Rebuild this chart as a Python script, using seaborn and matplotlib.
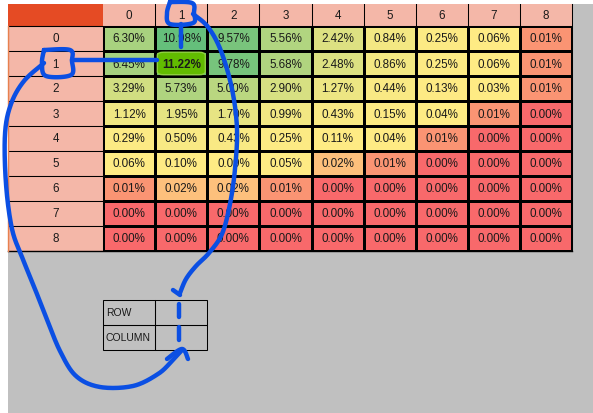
import numpy as np
import pandas as pd
import seaborn as sns
import matplotlib
matplotlib.use("Agg")
import matplotlib.pyplot as plt
from matplotlib.colors import LinearSegmentedColormap, TwoSlopeNorm
from matplotlib.patches import Rectangle, FancyBboxPatch

# ---- data ----
row_labels = ["0", "1", "2", "3", "4", "5", "6", "7", "8"]
col_labels = ["0", "1", "2", "3", "4", "5", "6", "7", "8"]
row0 = [6.30, 10.98, 9.57, 5.56, 2.42, 0.84, 0.25, 0.06, 0.01]
row1 = [6.45, 11.22, 9.78, 5.68, 2.48, 0.86, 0.25, 0.06, 0.01]
row2 = [3.29, 5.73, 5.00, 2.90, 1.27, 0.44, 0.13, 0.03, 0.01]
row3 = [1.12, 1.95, 1.70, 0.99, 0.43, 0.15, 0.04, 0.01, 0.00]
row4 = [0.29, 0.50, 0.43, 0.25, 0.11, 0.04, 0.01, 0.00, 0.00]
row5 = [0.06, 0.10, 0.09, 0.05, 0.02, 0.01, 0.00, 0.00, 0.00]
row6 = [0.01, 0.02, 0.02, 0.01, 0.00, 0.00, 0.00, 0.00, 0.00]
row7 = [0.00, 0.00, 0.00, 0.00, 0.00, 0.00, 0.00, 0.00, 0.00]
row8 = [0.00, 0.00, 0.00, 0.00, 0.00, 0.00, 0.00, 0.00, 0.00]
form_labels = ["ROW", "COLUMN"]
highlight_row, highlight_col = 1, 1

values = np.array([row0, row1, row2, row3, row4, row5, row6, row7, row8])
df = pd.DataFrame(values, index=row_labels, columns=col_labels)
annot = df.map(lambda v: f"{v:.2f}%")

W, H = 593, 414
fig = plt.figure(figsize=(W / 100, H / 100), dpi=100, facecolor="white")

# background (pixel coordinates)
bg = fig.add_axes([0, 0, 1, 1])
bg.set_xlim(0, W)
bg.set_ylim(H, 0)
bg.axis("off")
bg.add_patch(Rectangle((8, 5), W - 8, H - 5, facecolor="#c0c0c0", edgecolor="none"))

# heatmap axes: covers x 8..572, y 5..252 in pixels
x0, x1, y0, y1 = 8, 572, 5, 252
ax = fig.add_axes([x0 / W, 1 - y1 / H, (x1 - x0) / W, (y1 - y0) / H])
cmap = LinearSegmentedColormap.from_list("rdylgn_xl", ["#F8696B", "#FFEB84", "#63BE7B"])
med = float(np.median(values))
norm = TwoSlopeNorm(vmin=values.min(), vcenter=max(med, 0.03), vmax=values.max())
LW = 0.75
sns.heatmap(df, ax=ax, cmap=cmap, norm=norm, annot=annot, fmt="", cbar=False,
            linewidths=LW, linecolor="black",
            annot_kws={"fontsize": 8.4, "color": "#1a1a1a", "family": "Liberation Sans"})
hdr_w = 95 / 52
hdr_h = 22 / 25
ax.set_xlim(-hdr_w, 9)
ax.set_ylim(9, -hdr_h)
ax.set_xticks([])
ax.set_yticks([])
for s in ax.spines.values():
    s.set_visible(False)

# highlight of max cell
for t in ax.texts:
    if t.get_text() == f"{values[highlight_row, highlight_col]:.2f}%":
        t.set_fontweight("bold")
        t.set_zorder(6)
ax.add_patch(FancyBboxPatch((highlight_col + 0.04, highlight_row + 0.05), 0.92, 0.9,
                            boxstyle="round,pad=0,rounding_size=0.12",
                            facecolor="#62bb00", edgecolor="#8fd040", linewidth=1, zorder=5))

# headers
ax.add_patch(Rectangle((-hdr_w, -hdr_h), hdr_w, hdr_h, facecolor="#E54B24", edgecolor="none", zorder=3))
for j, lab in enumerate(col_labels):
    ax.add_patch(Rectangle((j, -hdr_h), 1, hdr_h, facecolor="#F4B7A8", edgecolor="none", zorder=3))
    ax.text(j + 0.5, -hdr_h / 2, lab, ha="center", va="center", fontsize=8.4,
            family="Liberation Sans", color="#1a1a1a", zorder=4)
    if j > 0:
        ax.plot([j, j], [-hdr_h, 0], color="black", lw=LW, zorder=4)
ax.plot([-hdr_w, 9], [0, 0], color="black", lw=LW, zorder=4)
for i, lab in enumerate(row_labels):
    ax.add_patch(Rectangle((-hdr_w, i), hdr_w, 1, facecolor="#F4B7A8", edgecolor="black",
                           linewidth=LW, zorder=3))
    ax.text(-hdr_w / 2, i + 0.5, lab, ha="center", va="center", fontsize=8.4,
            family="Liberation Sans", color="#1a1a1a", zorder=4)
ax.plot([9, 9], [-hdr_h, 9], color="black", lw=LW, zorder=4, clip_on=False)
ax.plot([-hdr_w, 9], [9, 9], color="black", lw=1.0, zorder=4, clip_on=False)
ax.plot([-hdr_w, -hdr_w], [0, 9], color="#E8804F", lw=1.0, zorder=4, clip_on=False)

# small form
for k, lab in enumerate(form_labels):
    yy = 301 + 25 * k
    bg.add_patch(Rectangle((103, yy), 52, 25, facecolor="none", edgecolor="black", lw=LW))
    bg.add_patch(Rectangle((155, yy), 52, 25, facecolor="none", edgecolor="black", lw=LW))
    bg.text(106, yy + 12.5, lab, ha="left", va="center", fontsize=7.5,
            family="Liberation Sans", color="#1a1a1a")

# ---- blue hand-drawn annotations (overlay) ----
ov = fig.add_axes([0, 0, 1, 1])
ov.set_xlim(0, W)
ov.set_ylim(H, 0)
ov.axis("off")
ov.patch.set_alpha(0)
blue = "#0b4fe3"
lw = 3.2

def spline(pts, n=20):
    p = np.array(pts, float)
    p = np.vstack([p[0], p, p[-1]])
    out = []
    for i in range(1, len(p) - 2):
        P0, P1, P2, P3 = p[i - 1], p[i], p[i + 1], p[i + 2]
        for t in np.linspace(0, 1, n, endpoint=False):
            t2, t3 = t * t, t * t * t
            out.append(0.5 * ((2 * P1) + (-P0 + P2) * t + (2 * P0 - 5 * P1 + 4 * P2 - P3) * t2
                              + (-P0 + 3 * P1 - 3 * P2 + P3) * t3))
    out.append(p[-2])
    return np.array(out)

def stroke(pts):
    s = spline(pts)
    ov.plot(s[:, 0], s[:, 1], color=blue, lw=lw, solid_capstyle="round", solid_joinstyle="round")

# box around column header 1
stroke([(170, 3), (192, 4), (194, 14), (193, 24), (170, 25), (167, 14), (170, 3)])
stroke([(181, 25), (181, 48)])
# box around row header 1
stroke([(44, 51), (70, 51), (72, 62), (71, 76), (46, 77), (42, 64), (44, 51)])
stroke([(72, 61), (157, 61)])
# right curve (column) down to form
stroke([(193, 15), (208, 28), (221, 52), (232, 90), (237, 130), (235, 170), (230, 205),
        (222, 235), (209, 254), (196, 267), (186, 280), (180, 294)])
stroke([(173, 291), (180, 296)])
ov.plot([179, 179], [305, 318], color=blue, lw=lw, solid_capstyle="round")
ov.plot([179, 179], [328, 341], color=blue, lw=lw, solid_capstyle="round")
# left curve (row) down to form
stroke([(44, 64), (24, 82), (11, 105), (5, 135), (6, 185), (12, 230), (22, 258), (33, 285),
        (46, 318), (60, 352), (76, 377), (100, 388), (133, 387), (158, 375), (172, 362), (182, 351)])
stroke([(167, 360), (182, 350), (188, 360)])

fig.savefig("out.png", dpi=100, facecolor="white")
